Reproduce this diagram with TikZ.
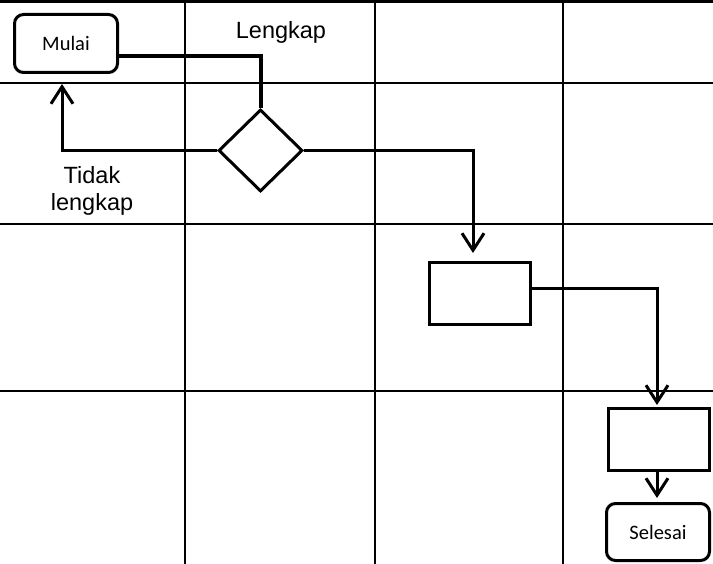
\documentclass[tikz,border=0pt]{standalone}
\usepackage{fontspec}
\setmainfont{Liberation Sans}
\newfontfamily\calibri{Carlito}
\usetikzlibrary{shapes.geometric}
\usetikzlibrary{arrows.meta}
\usetikzlibrary{calc}

\begin{document}
\begin{tikzpicture}[x=1pt, y=-1pt,
    garis/.style={line width=2.8pt},
    terminal/.style={draw, line width=3pt, rounded corners=9pt, inner sep=0pt,
        minimum width=103pt, font=\calibri\fontsize{20.5}{24}\selectfont},
    proses/.style={draw, line width=3pt, inner sep=0pt,
        minimum width=101pt, minimum height=62pt},
    keputusan/.style={draw, diamond, line width=3pt, inner sep=0pt,
        minimum width=84pt, minimum height=82pt},
    alur/.style={line width=3pt, -{Straight Barb[length=17pt, width=22pt]}}]
    \useasboundingbox (0,0) rectangle (713,564);
    % Grid
    \foreach \y in {1.5,83,224,391}
        \draw[garis] (0,\y) -- (713,\y);
    \foreach \x in {185,375,563}
        \draw[garis] (\x,0) -- (\x,564);
    % Shapes
    \node[terminal, minimum height=58pt] (mulai) at (66,43.5) {Mulai};
    \node[keputusan] (cek) at (260.5,150.5) {};
    \node[proses] (proses1) at (480,293.5) {};
    \node[proses] (proses2) at (659,439.5) {};
    \node[terminal, minimum height=57pt] (selesai) at (658,532) {Selesai};
    % Labels
    \node[anchor=base, font=\fontsize{23.5}{27}\selectfont] (lengkap) at (281,39) {Lengkap};
    \node[align=center, font=\fontsize{23.5}{27}\selectfont] (tidak) at (92,191) {Tidak\\lengkap};
    % Flow
    \draw[line width=4pt, line join=miter] ([yshift=-12.5pt]mulai.east) -| (cek.north);
    \draw[alur] (cek.west) -| ($(mulai.south)+(-4,10)$);
    \draw[alur] (cek.east) -| ($(proses1.north)+(-7,-8)$);
    \draw[alur] ([yshift=4.5pt]proses1.east) -| ($(proses2.north)+(-2,-2)$);
    \draw[alur] ($(proses2.south)+(-2,0)$) -- ($(selesai.north)+(-1,-4)$);
\end{tikzpicture}
\end{document}
